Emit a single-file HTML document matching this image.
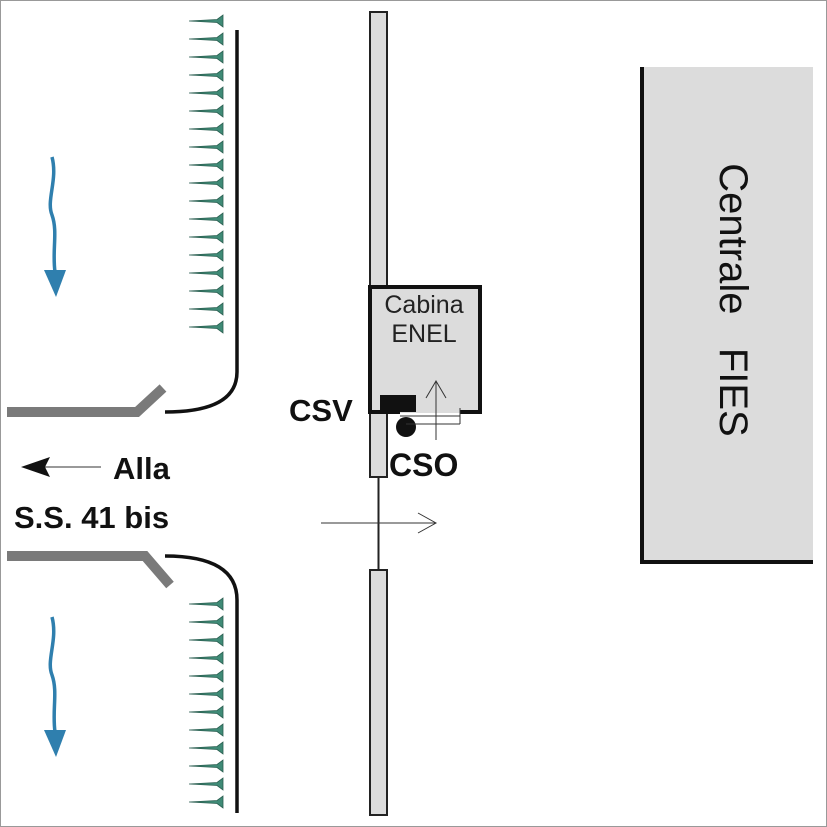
<!DOCTYPE html>
<html><head><meta charset="utf-8"><style>
html,body{margin:0;padding:0;background:#fff}
svg{display:block}
text{font-family:"Liberation Sans",Arial,sans-serif}
</style></head><body>
<svg width="827" height="827" viewBox="0 0 827 827" xmlns="http://www.w3.org/2000/svg">
<defs>
<g id="m">
<path d="M0,0 L28,-1.5 L34,-6 L34,6 L28,1.5 Z" fill="#3f8a76" stroke="#2a5e50" stroke-width="0.8"/>
</g>
</defs>
<rect x="0.5" y="0.5" width="826" height="826" fill="#fff" stroke="#999" stroke-width="1"/>
<g>
<use href="#m" x="189" y="21"/><use href="#m" x="189" y="39"/><use href="#m" x="189" y="57"/><use href="#m" x="189" y="75"/><use href="#m" x="189" y="93"/><use href="#m" x="189" y="111"/><use href="#m" x="189" y="129"/><use href="#m" x="189" y="147"/><use href="#m" x="189" y="165"/><use href="#m" x="189" y="183"/><use href="#m" x="189" y="201"/><use href="#m" x="189" y="219"/><use href="#m" x="189" y="237"/><use href="#m" x="189" y="255"/><use href="#m" x="189" y="273"/><use href="#m" x="189" y="291"/><use href="#m" x="189" y="309"/><use href="#m" x="189" y="327"/>
</g>
<g>
<use href="#m" x="189" y="604"/><use href="#m" x="189" y="622"/><use href="#m" x="189" y="640"/><use href="#m" x="189" y="658"/><use href="#m" x="189" y="676"/><use href="#m" x="189" y="694"/><use href="#m" x="189" y="712"/><use href="#m" x="189" y="730"/><use href="#m" x="189" y="748"/><use href="#m" x="189" y="766"/><use href="#m" x="189" y="784"/><use href="#m" x="189" y="802"/>
</g>
<path d="M237,30 L237,372 Q237,412 165,412" fill="none" stroke="#111" stroke-width="3.5"/>
<path d="M165,556 Q237,556 237,600 L237,813" fill="none" stroke="#111" stroke-width="3.5"/>
<path d="M7,412 L137,412 L163,388" fill="none" stroke="#7a7a7a" stroke-width="10"/>
<path d="M7,556 L145,556 L170,585" fill="none" stroke="#7a7a7a" stroke-width="10"/>
<path d="M52,157 C58,180 46,200 52,215 C58,232 52,250 55,272" fill="none" stroke="#2f7fae" stroke-width="3.5"/>
<path d="M44,270 L66,270 L56,297 Z" fill="#2f7fae"/>
<path d="M52,617 C58,640 46,660 52,675 C58,692 52,710 55,732" fill="none" stroke="#2f7fae" stroke-width="3.5"/>
<path d="M44,730 L66,730 L56,757 Z" fill="#2f7fae"/>
<rect x="370" y="12" width="17" height="275" fill="#dcdcdc" stroke="#222" stroke-width="2"/>
<rect x="370" y="412" width="17" height="65" fill="#dcdcdc" stroke="#222" stroke-width="2"/>
<rect x="370" y="570" width="17" height="245" fill="#dcdcdc" stroke="#222" stroke-width="2"/>
<line x1="378.5" y1="477" x2="378.5" y2="570" stroke="#222" stroke-width="2"/>
<rect x="368" y="285" width="114" height="128" fill="#dcdcdc"/>
<path d="M400,412 L370,412 L370,287 L480,287 L480,412 L460,412" fill="none" stroke="#111" stroke-width="4"/>
<rect x="380" y="395" width="36" height="17" fill="#111"/>
<circle cx="406" cy="427" r="10" fill="#111"/>
<path d="M400,416 L460,416 M406,424 L460,424 M460,408 L460,424" fill="none" stroke="#333" stroke-width="1"/>
<line x1="436" y1="381" x2="436" y2="440" stroke="#333" stroke-width="1"/>
<path d="M426,398 L436,381 L446,398" fill="none" stroke="#333" stroke-width="1"/>
<text x="424" y="313" font-size="25" text-anchor="middle" fill="#222">Cabina</text>
<text x="424" y="342" font-size="25" text-anchor="middle" fill="#222">ENEL</text>
<line x1="321" y1="523" x2="436" y2="523" stroke="#333" stroke-width="1"/>
<path d="M418,513 L436,523 L418,533" fill="none" stroke="#333" stroke-width="1"/>
<text x="289" y="421" font-size="31" font-weight="bold" fill="#111">CSV</text>
<text x="389" y="476" font-size="32" font-weight="bold" fill="#111">CSO</text>
<line x1="45" y1="467" x2="101" y2="467" stroke="#333" stroke-width="1"/>
<path d="M21,467 L50,457 L45,467 L50,477 Z" fill="#111"/>
<text x="113" y="479" font-size="31" font-weight="bold" fill="#111">Alla</text>
<text x="14" y="528" font-size="31" font-weight="bold" fill="#111">S.S. 41 bis</text>
<rect x="640" y="67" width="173" height="497" fill="#dcdcdc"/>
<path d="M642,67 L642,562 L813,562" fill="none" stroke="#111" stroke-width="4"/>
<text transform="translate(720,300) rotate(90)" font-size="40" text-anchor="middle" fill="#111" xml:space="preserve">Centrale   FIES</text>
</svg>
</body></html>
